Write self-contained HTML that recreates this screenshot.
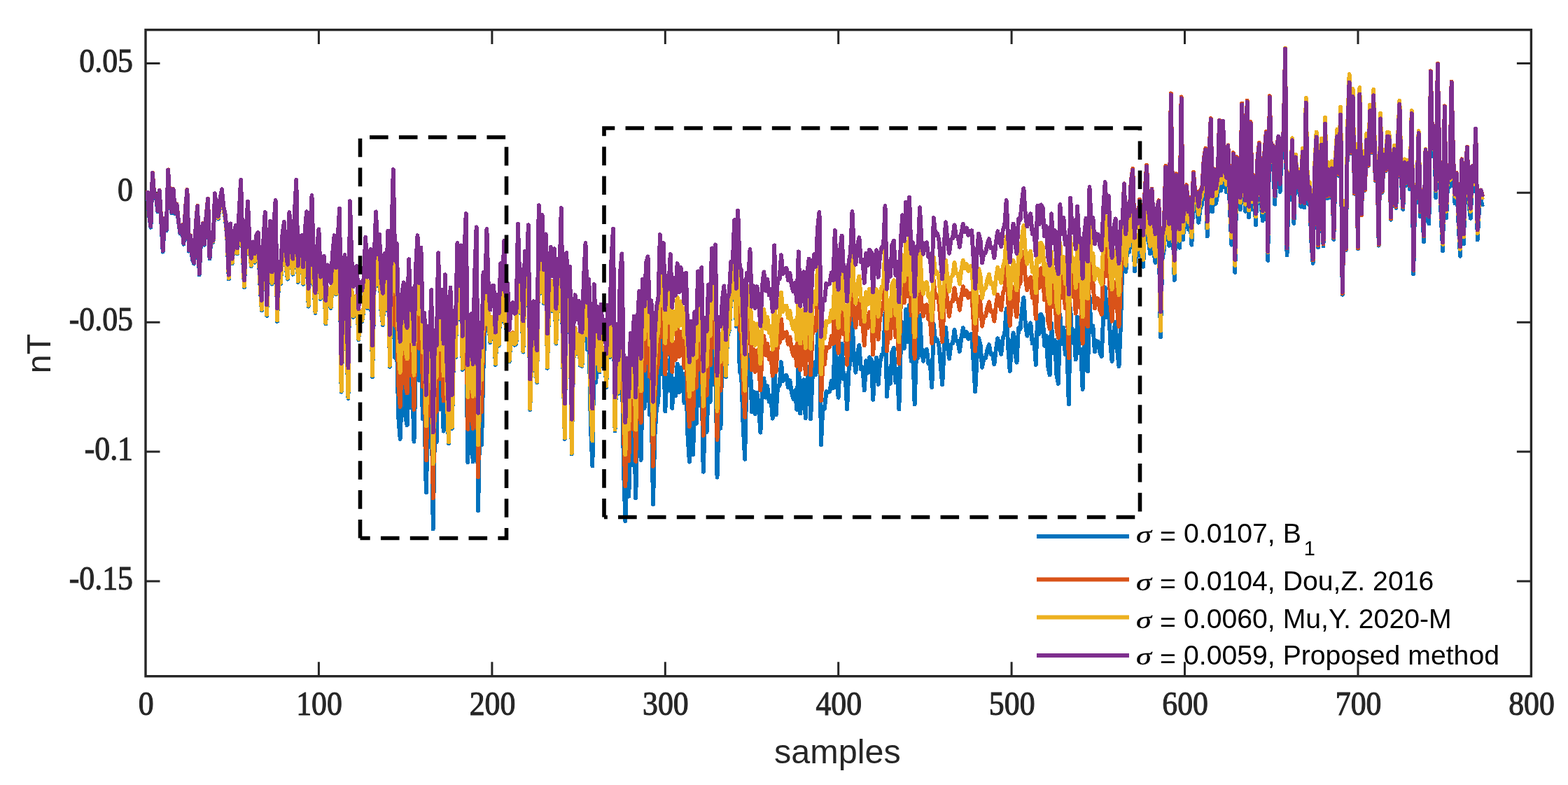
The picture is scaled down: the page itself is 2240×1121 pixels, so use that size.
<!DOCTYPE html>
<html><head><meta charset="utf-8"><title>samples nT</title>
<style>html,body{margin:0;padding:0;background:#fff;}svg{display:block;}</style></head>
<body>
<svg width="2240" height="1121" viewBox="0 0 2240 1121">
<rect x="0" y="0" width="2240" height="1121" fill="#fff"/>
<rect x="208.0" y="42.6" width="1979.4" height="923.1" fill="none" stroke="#262626" stroke-width="3.4"/>
<g stroke="#262626" stroke-width="3" fill="none">
<path d="M455.4,965.7 v-20.5 M455.4,42.6 v20.5"/>
<path d="M702.9,965.7 v-20.5 M702.9,42.6 v20.5"/>
<path d="M950.3,965.7 v-20.5 M950.3,42.6 v20.5"/>
<path d="M1197.7,965.7 v-20.5 M1197.7,42.6 v20.5"/>
<path d="M1445.1,965.7 v-20.5 M1445.1,42.6 v20.5"/>
<path d="M1692.5,965.7 v-20.5 M1692.5,42.6 v20.5"/>
<path d="M1940.0,965.7 v-20.5 M1940.0,42.6 v20.5"/>
<path d="M208.0,90.4 h20.5 M2187.4,90.4 h-20.5"/>
<path d="M208.0,275.3 h20.5 M2187.4,275.3 h-20.5"/>
<path d="M208.0,460.2 h20.5 M2187.4,460.2 h-20.5"/>
<path d="M208.0,645.1 h20.5 M2187.4,645.1 h-20.5"/>
<path d="M208.0,830.0 h20.5 M2187.4,830.0 h-20.5"/>
</g>
<g fill="none" stroke-width="5.9" stroke-linejoin="round" stroke-linecap="butt" shape-rendering="crispEdges">
<polyline points="210.5,273.9 212.9,307.1 215.4,324.8 217.9,248.6 220.4,280.9 222.8,279.5 225.3,302.5 227.8,273.6 230.3,317.1 232.7,359.6 235.2,313.7 237.7,329.3 240.2,244.4 242.6,286.4 245.1,304.3 247.6,271.8 250.1,305.2 252.5,293.2 255.0,317.2 257.5,333.7 260.0,323.3 262.4,348.9 264.9,299.7 267.4,272.7 269.9,358.7 272.3,338.3 274.8,370.8 277.3,376.6 279.8,321.3 282.2,295.9 284.7,392.3 287.2,342.1 289.7,320.9 292.1,349.8 294.6,310.0 297.1,285.5 299.5,369.4 302.0,334.2 304.5,346.1 307.0,278.8 309.4,305.3 311.9,312.5 314.4,288.6 316.9,274.6 319.3,299.4 321.8,311.5 324.3,339.4 326.8,398.5 329.2,325.8 331.7,376.5 334.2,344.2 336.7,329.7 339.1,362.6 341.6,311.1 344.1,265.7 346.6,359.4 349.0,410.3 351.5,338.8 354.0,298.7 356.5,356.5 358.9,380.4 361.4,357.4 363.9,374.9 366.4,347.9 368.8,345.6 371.3,404.3 373.8,443.2 376.2,360.4 378.7,318.6 381.2,450.8 383.7,368.9 386.1,332.5 388.6,405.6 391.1,340.4 393.6,304.4 396.0,458.9 398.5,392.6 401.0,405.2 403.5,353.5 405.9,336.8 408.4,380.8 410.9,398.6 413.4,324.6 415.8,372.0 418.3,391.8 420.8,326.9 423.3,279.7 425.7,402.8 428.2,368.1 430.7,360.4 433.2,405.7 435.6,354.8 438.1,327.6 440.6,437.6 443.1,357.7 445.5,306.5 448.0,399.9 450.5,447.0 453.0,384.2 455.4,357.9 457.9,426.8 460.4,402.0 462.8,398.6 465.3,462.4 467.8,412.7 470.3,433.9 472.7,439.8 475.2,397.4 477.7,373.9 480.2,420.6 482.6,378.8 485.1,337.5 487.6,559.7 490.1,454.6 492.5,406.2 495.0,485.6 497.5,568.8 500.0,330.8 502.4,415.7 504.9,453.0 507.4,426.8 509.9,424.1 512.3,485.4 514.8,447.1 517.3,459.2 519.8,440.0 522.2,383.5 524.7,440.2 527.2,407.7 529.7,400.7 532.1,538.0 534.6,414.6 537.1,347.4 539.5,407.8 542.0,379.8 544.5,444.5 547.0,464.2 549.4,407.8 551.9,442.8 554.4,375.2 556.9,523.7 559.3,380.5 561.8,288.2 564.3,510.9 566.8,486.4 569.2,595.6 571.7,626.9 574.2,558.8 576.7,542.4 579.1,594.2 581.6,607.3 584.1,509.5 586.6,581.9 589.0,551.5 591.5,630.6 594.0,521.7 596.5,475.7 598.9,543.5 601.4,492.9 603.9,598.4 606.4,586.4 608.8,703.3 611.3,605.5 613.8,638.2 616.3,552.6 618.7,755.4 621.2,609.5 623.7,631.6 626.1,497.0 628.6,584.7 631.1,540.1 633.6,615.6 636.0,517.2 638.5,568.7 641.0,633.3 643.5,458.6 645.9,611.8 648.4,492.3 650.9,510.6 653.4,395.2 655.8,455.9 658.3,398.4 660.8,527.9 663.3,410.1 665.7,444.3 668.2,660.0 670.7,590.7 673.2,587.3 675.6,659.3 678.1,532.7 680.6,463.7 683.1,729.1 685.5,600.6 688.0,635.6 690.5,528.2 693.0,464.5 695.4,374.1 697.9,460.6 700.4,489.1 702.9,454.6 705.3,454.4 707.8,520.9 710.3,467.4 712.7,493.6 715.2,422.2 717.7,458.7 720.2,389.8 722.6,468.7 725.1,450.2 727.6,516.5 730.1,480.7 732.5,477.2 735.0,492.8 737.5,490.8 740.0,364.8 742.4,446.6 744.9,429.0 747.4,502.6 749.9,402.8 752.3,435.6 754.8,365.0 757.3,585.1 759.8,494.0 762.2,475.0 764.7,525.0 767.2,546.4 769.7,339.8 772.1,418.8 774.6,354.7 777.1,433.4 779.6,383.3 782.0,525.8 784.5,431.6 787.0,402.6 789.4,444.2 791.9,405.2 794.4,490.6 796.9,419.7 799.3,444.4 801.8,347.5 804.3,519.7 806.8,626.8 809.2,411.5 811.7,473.6 814.2,431.0 816.7,648.3 819.1,520.6 821.6,470.5 824.1,505.2 826.6,478.5 829.0,522.0 831.5,522.9 834.0,444.3 836.5,402.3 838.9,499.3 841.4,478.1 843.9,609.8 846.4,665.5 848.8,488.2 851.3,546.3 853.8,494.2 856.3,531.5 858.7,482.7 861.2,523.4 863.7,504.6 866.2,552.9 868.6,483.6 871.1,510.3 873.6,414.3 876.0,374.7 878.5,615.4 881.0,510.9 883.5,562.1 885.9,466.3 888.4,503.4 890.9,668.8 893.4,744.2 895.8,653.0 898.3,708.7 900.8,618.2 903.3,664.3 905.7,595.2 908.2,711.4 910.7,604.8 913.2,560.5 915.6,656.9 918.1,544.1 920.6,582.9 923.1,520.5 925.5,512.4 928.0,592.0 930.5,575.8 933.0,720.2 935.4,622.7 937.9,583.5 940.4,572.6 942.9,480.7 945.3,534.4 947.8,492.4 950.3,587.4 952.7,538.6 955.2,556.6 957.7,507.6 960.2,582.9 962.6,540.6 965.1,565.6 967.6,519.6 970.1,560.6 972.5,524.9 975.0,540.0 977.5,575.5 980.0,532.4 982.4,621.3 984.9,659.6 987.4,601.2 989.9,649.3 992.3,588.6 994.8,604.8 997.3,530.6 999.8,578.6 1002.2,525.7 1004.7,673.7 1007.2,597.9 1009.7,617.0 1012.1,551.1 1014.6,574.2 1017.1,499.2 1019.6,549.3 1022.0,494.7 1024.5,681.7 1027.0,598.6 1029.5,611.8 1031.9,480.9 1034.4,461.4 1036.9,538.5 1039.3,480.0 1041.8,471.6 1044.3,427.2 1046.8,427.7 1049.2,368.0 1051.7,465.8 1054.2,406.0 1056.7,530.6 1059.1,535.3 1061.6,606.3 1064.1,655.8 1066.6,540.3 1069.0,550.5 1071.5,506.8 1074.0,588.6 1076.5,559.3 1078.9,591.2 1081.4,560.7 1083.9,582.4 1086.4,617.6 1088.8,561.6 1091.3,540.4 1093.8,567.6 1096.3,551.3 1098.7,573.8 1101.2,564.9 1103.7,597.6 1106.2,503.0 1108.6,592.2 1111.1,550.9 1113.6,551.0 1116.0,517.1 1118.5,544.3 1121.0,536.7 1123.5,536.0 1125.9,553.4 1128.4,543.3 1130.9,561.1 1133.4,569.7 1135.8,557.4 1138.3,585.0 1140.8,513.0 1143.3,590.5 1145.7,551.2 1148.2,542.1 1150.7,597.2 1153.2,545.7 1155.6,523.6 1158.1,598.3 1160.6,540.0 1163.1,517.5 1165.5,535.1 1168.0,480.5 1170.5,457.6 1173.0,635.3 1175.4,581.0 1177.9,583.8 1180.4,559.1 1182.9,560.5 1185.3,559.2 1187.8,543.5 1190.3,554.5 1192.8,483.2 1195.2,543.0 1197.7,567.8 1200.2,510.9 1202.6,490.6 1205.1,541.1 1207.6,535.7 1210.1,584.6 1212.5,528.9 1215.0,514.6 1217.5,456.1 1220.0,511.4 1222.4,531.8 1224.9,504.5 1227.4,493.0 1229.9,527.5 1232.3,524.3 1234.8,557.5 1237.3,515.1 1239.8,532.7 1242.2,510.3 1244.7,513.6 1247.2,570.7 1249.7,528.0 1252.1,510.5 1254.6,549.2 1257.1,518.4 1259.6,506.3 1262.0,506.1 1264.5,447.3 1267.0,566.0 1269.5,525.8 1271.9,548.1 1274.4,502.9 1276.9,496.8 1279.4,546.1 1281.8,526.7 1284.3,584.5 1286.8,498.3 1289.2,460.2 1291.7,497.6 1294.2,442.0 1296.7,488.4 1299.1,435.6 1301.6,515.7 1304.1,500.1 1306.6,577.3 1309.0,506.0 1311.5,511.4 1314.0,449.6 1316.5,496.8 1318.9,515.7 1321.4,501.3 1323.9,498.9 1326.4,519.6 1328.8,520.5 1331.3,553.2 1333.8,462.8 1336.3,487.3 1338.7,484.6 1341.2,492.3 1343.7,521.0 1346.2,549.4 1348.6,500.7 1351.1,467.8 1353.6,495.4 1356.1,512.1 1358.5,491.8 1361.0,490.0 1363.5,471.0 1365.9,486.8 1368.4,486.9 1370.9,502.1 1373.4,482.1 1375.8,468.3 1378.3,480.1 1380.8,473.9 1383.3,484.0 1385.7,477.6 1388.2,477.2 1390.7,517.5 1393.2,559.4 1395.6,511.1 1398.1,482.4 1400.6,492.7 1403.1,524.8 1405.5,510.9 1408.0,511.4 1410.5,499.3 1413.0,492.0 1415.4,505.9 1417.9,505.8 1420.4,520.3 1422.9,498.3 1425.3,483.2 1427.8,497.5 1430.3,505.8 1432.8,482.2 1435.2,476.7 1437.7,441.0 1440.2,496.0 1442.7,530.0 1445.1,494.4 1447.6,475.3 1450.1,503.8 1452.5,517.7 1455.0,468.3 1457.5,470.1 1460.0,441.9 1462.4,425.0 1464.9,463.8 1467.4,479.6 1469.9,464.9 1472.3,461.4 1474.8,490.5 1477.3,484.6 1479.8,520.8 1482.2,450.3 1484.7,476.8 1487.2,448.8 1489.7,453.7 1492.1,493.9 1494.6,479.4 1497.1,523.3 1499.6,535.4 1502.0,461.9 1504.5,503.8 1507.0,485.9 1509.5,536.4 1511.9,548.1 1514.4,449.0 1516.9,491.0 1519.4,467.9 1521.8,505.9 1524.3,495.3 1526.8,577.3 1529.2,440.1 1531.7,489.1 1534.2,472.2 1536.7,513.4 1539.1,453.1 1541.6,503.8 1544.1,498.6 1546.6,555.9 1549.0,493.9 1551.5,468.6 1554.0,530.0 1556.5,423.1 1558.9,474.4 1561.4,465.3 1563.9,502.5 1566.4,487.4 1568.8,487.5 1571.3,503.4 1573.8,508.9 1576.3,448.0 1578.7,410.4 1581.2,453.2 1583.7,428.8 1586.2,490.2 1588.6,515.9 1591.1,472.9 1593.6,459.9 1596.1,500.6 1598.5,523.3 1601.0,463.6 1603.5,373.4 1606.0,316.4 1608.4,388.0 1610.9,343.5 1613.4,359.6 1615.8,308.5 1618.3,291.4 1620.8,387.4 1623.3,349.6 1625.7,365.6 1628.2,332.7 1630.7,369.1 1633.2,381.0 1635.6,317.8 1638.1,281.7 1640.6,341.1 1643.1,362.6 1645.5,312.6 1648.0,356.6 1650.5,374.9 1653.0,336.9 1655.4,324.8 1657.9,481.0 1660.4,370.4 1662.9,356.9 1665.3,271.5 1667.8,332.6 1670.3,350.9 1672.8,165.5 1675.2,314.1 1677.7,399.8 1680.2,277.9 1682.7,336.5 1685.1,354.0 1687.6,167.0 1690.1,342.5 1692.5,300.6 1695.0,291.5 1697.5,327.6 1700.0,308.9 1702.4,349.6 1704.9,271.6 1707.4,300.7 1709.9,299.2 1712.3,317.8 1714.8,296.5 1717.3,291.8 1719.8,249.7 1722.2,235.1 1724.7,337.4 1727.2,244.1 1729.7,191.7 1732.1,302.0 1734.6,263.8 1737.1,290.8 1739.6,275.6 1742.0,194.1 1744.5,272.2 1747.0,194.5 1749.5,251.3 1751.9,274.4 1754.4,228.3 1756.9,298.7 1759.4,349.6 1761.8,238.4 1764.3,388.8 1766.8,243.8 1769.3,288.4 1771.7,299.3 1774.2,165.9 1776.7,263.4 1779.1,301.8 1781.6,160.9 1784.1,310.0 1786.6,191.3 1789.0,299.6 1791.5,267.9 1794.0,321.6 1796.5,244.0 1798.9,220.7 1801.4,292.6 1803.9,315.2 1806.4,232.7 1808.8,203.2 1811.3,371.8 1813.8,151.4 1816.3,242.2 1818.7,220.7 1821.2,291.6 1823.7,227.2 1826.2,206.4 1828.6,274.1 1831.1,215.0 1833.6,199.6 1836.1,80.7 1838.5,364.4 1841.0,269.9 1843.5,284.9 1846.0,208.8 1848.4,318.9 1850.9,232.2 1853.4,274.3 1855.9,253.4 1858.3,295.0 1860.8,224.3 1863.3,296.5 1865.7,153.4 1868.2,290.7 1870.7,273.3 1873.2,343.6 1875.6,375.9 1878.1,250.3 1880.6,201.2 1883.1,353.5 1885.5,245.7 1888.0,211.3 1890.5,351.4 1893.0,181.6 1895.4,283.3 1897.9,246.3 1900.4,282.2 1902.9,244.6 1905.3,341.8 1907.8,240.2 1910.3,198.7 1912.8,250.9 1915.2,167.3 1917.7,420.7 1920.2,301.7 1922.7,357.5 1925.1,195.1 1927.6,120.6 1930.1,219.2 1932.6,141.0 1935.0,276.8 1937.5,218.6 1940.0,354.9 1942.4,137.1 1944.9,307.6 1947.4,227.7 1949.9,271.9 1952.3,202.3 1954.8,236.8 1957.3,160.8 1959.8,217.9 1962.2,139.0 1964.7,257.8 1967.2,233.9 1969.7,350.6 1972.1,172.1 1974.6,274.9 1977.1,224.1 1979.6,244.5 1982.0,198.2 1984.5,198.4 1987.0,313.7 1989.5,239.4 1991.9,216.5 1994.4,297.0 1996.9,207.0 1999.4,152.8 2001.8,256.9 2004.3,298.8 2006.8,236.6 2009.3,264.9 2011.7,238.0 2014.2,270.3 2016.7,167.9 2019.2,391.4 2021.6,273.6 2024.1,289.3 2026.6,197.3 2029.0,309.5 2031.5,281.5 2034.0,345.3 2036.5,223.3 2038.9,298.6 2041.4,319.4 2043.9,112.6 2046.4,222.7 2048.8,192.0 2051.3,282.2 2053.8,103.0 2056.3,232.7 2058.7,310.4 2061.2,358.2 2063.7,164.6 2066.2,311.1 2068.6,248.9 2071.1,266.7 2073.6,130.3 2076.1,237.3 2078.5,290.3 2081.0,261.0 2083.5,318.5 2086.0,365.7 2088.4,241.7 2090.9,348.1 2093.4,260.4 2095.9,224.2 2098.3,290.8 2100.8,311.9 2103.3,251.4 2105.7,272.8 2108.2,197.7 2110.7,342.3 2113.2,294.3 2115.6,285.7 2118.1,295.0" stroke="#0072bd"/>
<polyline points="210.5,271.9 212.9,305.1 215.4,322.8 217.9,246.6 220.4,278.9 222.8,277.5 225.3,300.5 227.8,271.6 230.3,315.1 232.7,357.6 235.2,311.7 237.7,327.3 240.2,242.4 242.6,284.4 245.1,302.3 247.6,269.8 250.1,303.2 252.5,291.2 255.0,315.2 257.5,331.7 260.0,321.3 262.4,346.9 264.9,297.7 267.4,270.7 269.9,356.7 272.3,336.3 274.8,368.8 277.3,374.6 279.8,319.3 282.2,293.9 284.7,390.3 287.2,340.1 289.7,318.9 292.1,347.8 294.6,308.0 297.1,283.5 299.5,367.4 302.0,332.2 304.5,344.1 307.0,276.8 309.4,303.3 311.9,310.5 314.4,286.6 316.9,272.6 319.3,297.4 321.8,309.5 324.3,337.4 326.8,396.5 329.2,323.8 331.7,374.5 334.2,342.2 336.7,327.7 339.1,360.6 341.6,309.1 344.1,263.7 346.6,357.4 349.0,408.3 351.5,336.8 354.0,296.7 356.5,354.5 358.9,378.4 361.4,355.4 363.9,372.9 366.4,345.9 368.8,343.6 371.3,402.3 373.8,441.2 376.2,358.4 378.7,316.6 381.2,448.8 383.7,366.9 386.1,330.5 388.6,403.6 391.1,338.4 393.6,302.4 396.0,456.9 398.5,390.6 401.0,403.2 403.5,351.5 405.9,334.8 408.4,378.8 410.9,396.6 413.4,322.6 415.8,370.0 418.3,389.8 420.8,324.9 423.3,277.7 425.7,400.8 428.2,366.1 430.7,358.4 433.2,403.7 435.6,352.8 438.1,325.6 440.6,435.6 443.1,355.7 445.5,304.5 448.0,397.9 450.5,445.0 453.0,382.2 455.4,355.9 457.9,424.8 460.4,400.0 462.8,396.6 465.3,460.4 467.8,410.7 470.3,431.9 472.7,437.8 475.2,395.4 477.7,371.9 480.2,418.6 482.6,376.8 485.1,335.5 487.6,557.7 490.1,452.6 492.5,404.2 495.0,483.6 497.5,566.8 500.0,328.8 502.4,413.7 504.9,450.9 507.4,424.7 509.9,422.0 512.3,483.3 514.8,445.0 517.3,457.1 519.8,437.8 522.2,381.3 524.7,438.0 527.2,405.5 529.7,398.5 532.1,535.7 534.6,412.3 537.1,345.2 539.5,405.5 542.0,377.5 544.5,442.2 547.0,461.9 549.4,405.5 551.9,440.5 554.4,372.9 556.9,521.3 559.3,378.1 561.8,285.8 564.3,465.0 566.8,440.5 569.2,549.6 571.7,580.9 574.2,512.8 576.7,496.5 579.1,548.2 581.6,561.4 584.1,463.6 586.6,536.0 589.0,505.5 591.5,584.7 594.0,475.8 596.5,429.8 598.9,497.6 601.4,447.0 603.9,552.5 606.4,540.5 608.8,657.4 611.3,560.0 613.8,593.2 616.3,508.1 618.7,711.4 621.2,565.6 623.7,587.8 626.1,453.4 628.6,541.2 631.1,496.7 633.6,572.3 636.0,474.0 638.5,566.1 641.0,630.8 643.5,456.1 645.9,609.3 648.4,489.7 650.9,508.0 653.4,392.6 655.8,453.3 658.3,395.8 660.8,525.3 663.3,407.4 665.7,397.1 668.2,612.8 670.7,543.4 673.2,539.9 675.6,611.8 678.1,485.1 680.6,416.1 683.1,681.4 685.5,553.0 688.0,588.0 690.5,480.6 693.0,462.3 695.4,372.0 697.9,458.4 700.4,487.0 702.9,452.6 705.3,452.3 707.8,518.8 710.3,465.3 712.7,491.6 715.2,420.2 717.7,456.6 720.2,387.8 722.6,466.7 725.1,448.2 727.6,514.5 730.1,478.7 732.5,475.2 735.0,490.8 737.5,488.8 740.0,362.8 742.4,444.6 744.9,427.0 747.4,500.6 749.9,400.8 752.3,433.6 754.8,363.0 757.3,583.1 759.8,492.0 762.2,473.0 764.7,523.0 767.2,544.4 769.7,337.8 772.1,416.8 774.6,352.7 777.1,431.4 779.6,381.3 782.0,523.8 784.5,429.6 787.0,400.6 789.4,442.2 791.9,403.2 794.4,488.6 796.9,417.7 799.3,442.4 801.8,345.5 804.3,517.7 806.8,624.8 809.2,409.5 811.7,471.6 814.2,429.1 816.7,646.4 819.1,518.7 821.6,468.7 824.1,503.4 826.6,476.7 829.0,520.2 831.5,521.2 834.0,442.6 836.5,393.5 838.9,478.2 841.4,444.9 843.9,573.5 846.4,629.0 848.8,451.7 851.3,518.7 853.8,483.4 856.3,529.0 858.7,480.2 861.2,520.9 863.7,502.1 866.2,550.4 868.6,481.1 871.1,507.8 873.6,411.8 876.0,372.2 878.5,612.9 881.0,508.4 883.5,559.6 885.9,449.8 888.4,453.4 890.9,618.9 893.4,694.2 895.8,602.5 898.3,657.8 900.8,567.0 903.3,612.6 905.7,543.1 908.2,658.9 910.7,552.1 913.2,507.6 915.6,603.7 918.1,490.8 920.6,529.3 923.1,466.7 925.5,458.5 928.0,537.8 930.5,521.4 933.0,665.8 935.4,568.5 937.9,529.5 940.4,518.9 942.9,427.2 945.3,481.1 947.8,439.3 950.3,534.4 952.7,485.9 955.2,504.1 957.7,455.3 960.2,530.8 962.6,488.7 965.1,513.9 967.6,468.1 970.1,509.4 972.5,473.9 975.0,489.2 977.5,524.9 980.0,482.0 982.4,571.2 984.9,609.3 987.4,550.8 989.9,598.6 992.3,537.8 994.8,553.7 997.3,479.4 999.8,527.2 1002.2,474.0 1004.7,621.9 1007.2,545.9 1009.7,564.7 1012.1,498.6 1014.6,521.4 1017.1,446.3 1019.6,496.1 1022.0,441.3 1024.5,628.0 1027.0,544.8 1029.5,557.7 1031.9,478.3 1034.4,458.8 1036.9,535.8 1039.3,477.2 1041.8,468.8 1044.3,424.4 1046.8,424.9 1049.2,365.2 1051.7,462.9 1054.2,372.5 1056.7,470.3 1059.1,475.1 1061.6,546.3 1064.1,595.8 1066.6,480.3 1069.0,490.5 1071.5,446.7 1074.0,528.5 1076.5,499.1 1078.9,530.9 1081.4,500.4 1083.9,522.0 1086.4,557.2 1088.8,501.1 1091.3,479.9 1093.8,507.0 1096.3,490.6 1098.7,513.0 1101.2,504.0 1103.7,536.6 1106.2,441.9 1108.6,531.0 1111.1,489.7 1113.6,489.6 1116.0,455.6 1118.5,482.8 1121.0,475.1 1123.5,474.3 1125.9,491.6 1128.4,481.4 1130.9,499.1 1133.4,507.7 1135.8,495.3 1138.3,522.8 1140.8,450.7 1143.3,528.1 1145.7,488.8 1148.2,479.5 1150.7,534.5 1153.2,483.0 1155.6,460.8 1158.1,535.4 1160.6,477.0 1163.1,454.5 1165.5,471.9 1168.0,417.2 1170.5,394.2 1173.0,571.9 1175.4,517.5 1177.9,520.3 1180.4,495.6 1182.9,497.0 1185.3,495.6 1187.8,479.9 1190.3,490.9 1192.8,419.5 1195.2,479.2 1197.7,504.0 1200.2,447.1 1202.6,426.8 1205.1,477.3 1207.6,471.8 1210.1,520.7 1212.5,464.9 1215.0,450.6 1217.5,392.1 1220.0,447.3 1222.4,467.6 1224.9,440.3 1227.4,428.8 1229.9,463.3 1232.3,460.0 1234.8,493.2 1237.3,450.8 1239.8,468.3 1242.2,445.9 1244.7,449.2 1247.2,506.2 1249.7,463.5 1252.1,445.9 1254.6,484.6 1257.1,453.8 1259.6,441.6 1262.0,441.4 1264.5,382.6 1267.0,501.2 1269.5,461.0 1271.9,483.2 1274.4,438.0 1276.9,431.9 1279.4,481.1 1281.8,461.7 1284.3,519.5 1286.8,433.3 1289.2,395.2 1291.7,432.5 1294.2,376.9 1296.7,423.2 1299.1,370.4 1301.6,450.5 1304.1,434.8 1306.6,512.0 1309.0,440.9 1311.5,446.5 1314.0,385.0 1316.5,432.4 1318.9,451.6 1321.4,437.4 1323.9,435.3 1326.4,456.2 1328.8,457.3 1331.3,490.3 1333.8,400.2 1336.3,424.9 1338.7,422.4 1341.2,430.4 1343.7,459.3 1346.2,488.0 1348.6,439.5 1351.1,406.9 1353.6,434.7 1356.1,451.7 1358.5,431.6 1361.0,430.1 1363.5,411.3 1365.9,427.3 1368.4,427.4 1370.9,442.8 1373.4,422.9 1375.8,409.3 1378.3,421.2 1380.8,415.2 1383.3,425.5 1385.7,419.1 1388.2,419.0 1390.7,459.3 1393.2,501.4 1395.6,452.8 1398.1,423.8 1400.6,433.8 1403.1,465.7 1405.5,451.5 1408.0,451.5 1410.5,439.1 1413.0,431.4 1415.4,445.0 1417.9,444.5 1420.4,458.6 1422.9,436.2 1425.3,420.8 1427.8,434.7 1430.3,442.6 1432.8,418.6 1435.2,412.8 1437.7,376.7 1440.2,431.3 1442.7,465.0 1445.1,429.3 1447.6,410.2 1450.1,438.6 1452.5,452.5 1455.0,403.1 1457.5,404.8 1460.0,376.6 1462.4,359.7 1464.9,398.5 1467.4,414.2 1469.9,399.5 1472.3,396.0 1474.8,425.0 1477.3,419.1 1479.8,455.3 1482.2,384.8 1484.7,411.2 1487.2,383.2 1489.7,388.1 1492.1,428.3 1494.6,413.8 1497.1,457.6 1499.6,469.7 1502.0,396.2 1504.5,438.0 1507.0,420.1 1509.5,470.5 1511.9,482.3 1514.4,383.2 1516.9,425.1 1519.4,402.0 1521.8,440.0 1524.3,429.3 1526.8,511.3 1529.2,374.2 1531.7,423.2 1534.2,406.3 1536.7,447.6 1539.1,387.4 1541.6,438.2 1544.1,433.1 1546.6,490.6 1549.0,429.0 1551.5,404.2 1554.0,466.0 1556.5,359.7 1558.9,411.4 1561.4,402.8 1563.9,440.5 1566.4,425.9 1568.8,426.5 1571.3,442.8 1573.8,448.9 1576.3,388.4 1578.7,351.3 1581.2,394.6 1583.7,370.6 1586.2,432.5 1588.6,458.7 1591.1,415.8 1593.6,402.8 1596.1,443.5 1598.5,466.3 1601.0,406.6 1603.5,318.6 1606.0,262.3 1608.4,334.6 1610.9,290.9 1613.4,307.7 1615.8,257.2 1618.3,240.9 1620.8,337.6 1623.3,300.3 1625.7,316.9 1628.2,284.5 1630.7,321.5 1633.2,334.0 1635.6,271.4 1638.1,235.8 1640.6,295.7 1643.1,318.2 1645.5,269.6 1648.0,315.0 1650.5,334.5 1653.0,297.4 1655.4,286.2 1657.9,443.3 1660.4,333.7 1662.9,321.0 1665.3,236.7 1667.8,298.7 1670.3,317.9 1672.8,133.4 1675.2,283.0 1677.7,369.7 1680.2,248.3 1682.7,307.2 1685.1,325.1 1687.6,138.4 1690.1,314.3 1692.5,272.7 1695.0,264.0 1697.5,300.5 1700.0,282.2 1702.4,323.3 1704.9,245.6 1707.4,275.1 1709.9,273.9 1712.3,292.9 1714.8,272.0 1717.3,267.6 1719.8,225.9 1722.2,211.7 1724.7,314.3 1727.2,221.3 1729.7,169.0 1732.1,279.4 1734.6,241.4 1737.1,268.5 1739.6,253.4 1742.0,172.1 1744.5,250.4 1747.0,172.9 1749.5,230.0 1751.9,253.2 1754.4,207.4 1756.9,278.1 1759.4,329.2 1761.8,218.2 1764.3,368.8 1766.8,224.2 1769.3,269.2 1771.7,280.5 1774.2,147.5 1776.7,245.3 1779.1,284.1 1781.6,143.6 1784.1,293.1 1786.6,174.3 1789.0,282.3 1791.5,250.2 1794.0,303.6 1796.5,226.4 1798.9,203.6 1801.4,276.0 1803.9,299.2 1806.4,217.1 1808.8,188.1 1811.3,357.2 1813.8,137.2 1816.3,228.5 1818.7,207.4 1821.2,278.8 1823.7,214.8 1826.2,194.5 1828.6,262.6 1831.1,204.0 1833.6,188.9 1836.1,70.5 1838.5,354.4 1841.0,260.6 1843.5,276.2 1846.0,200.7 1848.4,311.5 1850.9,225.0 1853.4,267.4 1855.9,246.8 1858.3,288.7 1860.8,218.1 1863.3,290.0 1865.7,146.7 1868.2,284.4 1870.7,267.6 1873.2,338.4 1875.6,371.3 1878.1,246.4 1880.6,197.9 1883.1,350.5 1885.5,242.7 1888.0,208.3 1890.5,348.3 1893.0,178.6 1895.4,280.3 1897.9,243.5 1900.4,279.5 1902.9,242.0 1905.3,339.3 1907.8,237.9 1910.3,196.5 1912.8,248.8 1915.2,165.2 1917.7,418.8 1920.2,299.8 1922.7,355.7 1925.1,193.4 1927.6,119.0 1930.1,217.8 1932.6,139.8 1935.0,275.9 1937.5,217.8 1940.0,354.4 1942.4,136.7 1944.9,307.2 1947.4,227.2 1949.9,271.3 1952.3,201.6 1954.8,236.1 1957.3,159.9 1959.8,217.0 1962.2,137.9 1964.7,256.8 1967.2,232.8 1969.7,349.5 1972.1,171.0 1974.6,273.7 1977.1,222.9 1979.6,243.3 1982.0,197.1 1984.5,197.2 1987.0,312.3 1989.5,237.9 1991.9,214.9 1994.4,295.1 1996.9,204.9 1999.4,150.4 2001.8,254.1 2004.3,295.6 2006.8,232.9 2009.3,260.9 2011.7,233.6 2014.2,265.5 2016.7,162.6 2019.2,385.8 2021.6,267.6 2024.1,282.8 2026.6,190.3 2029.0,302.1 2031.5,273.7 2034.0,337.2 2036.5,214.9 2038.9,289.3 2041.4,309.2 2043.9,101.4 2046.4,211.2 2048.8,180.3 2051.3,270.2 2053.8,90.7 2056.3,220.2 2058.7,297.5 2061.2,345.2 2063.7,151.4 2066.2,297.8 2068.6,235.5 2071.1,253.2 2073.6,116.6 2076.1,223.5 2078.5,276.4 2081.0,246.9 2083.5,304.3 2086.0,351.4 2088.4,227.3 2090.9,333.6 2093.4,245.9 2095.9,209.7 2098.3,276.3 2100.8,297.5 2103.3,237.1 2105.7,258.6 2108.2,183.6 2110.7,328.3 2113.2,280.1 2115.6,271.3 2118.1,280.4" stroke="#d95319"/>
<polyline points="210.5,272.4 212.9,305.6 215.4,323.3 217.9,247.1 220.4,279.4 222.8,278.0 225.3,301.0 227.8,272.1 230.3,315.6 232.7,358.1 235.2,312.2 237.7,327.8 240.2,242.9 242.6,284.9 245.1,302.8 247.6,270.3 250.1,303.7 252.5,291.7 255.0,315.7 257.5,332.2 260.0,321.8 262.4,347.4 264.9,298.2 267.4,271.2 269.9,357.2 272.3,336.8 274.8,369.3 277.3,375.1 279.8,319.8 282.2,294.4 284.7,390.8 287.2,340.6 289.7,319.4 292.1,348.3 294.6,308.5 297.1,284.0 299.5,367.9 302.0,332.7 304.5,344.6 307.0,277.3 309.4,303.8 311.9,311.0 314.4,287.1 316.9,273.1 319.3,297.9 321.8,310.0 324.3,337.9 326.8,397.0 329.2,324.3 331.7,375.0 334.2,342.7 336.7,328.2 339.1,361.1 341.6,309.6 344.1,264.2 346.6,357.9 349.0,408.8 351.5,337.3 354.0,297.2 356.5,355.0 358.9,378.9 361.4,355.9 363.9,373.4 366.4,346.4 368.8,344.1 371.3,402.8 373.8,441.7 376.2,358.9 378.7,317.1 381.2,449.3 383.7,367.4 386.1,331.0 388.6,404.1 391.1,338.9 393.6,302.9 396.0,457.4 398.5,391.1 401.0,403.7 403.5,352.0 405.9,335.3 408.4,379.3 410.9,397.1 413.4,323.1 415.8,370.5 418.3,390.3 420.8,325.4 423.3,278.2 425.7,401.3 428.2,366.6 430.7,358.9 433.2,404.2 435.6,353.3 438.1,326.1 440.6,436.1 443.1,356.2 445.5,305.0 448.0,398.4 450.5,445.5 453.0,382.7 455.4,356.4 457.9,425.3 460.4,400.5 462.8,397.1 465.3,460.9 467.8,411.2 470.3,432.4 472.7,438.3 475.2,395.9 477.7,372.4 480.2,419.1 482.6,377.3 485.1,336.0 487.6,558.2 490.1,453.1 492.5,404.7 495.0,484.1 497.5,567.3 500.0,329.3 502.4,414.2 504.9,451.4 507.4,425.2 509.9,422.5 512.3,483.8 514.8,445.5 517.3,457.6 519.8,438.3 522.2,381.8 524.7,438.5 527.2,406.0 529.7,399.0 532.1,536.2 534.6,412.8 537.1,345.7 539.5,406.0 542.0,378.0 544.5,442.7 547.0,462.4 549.4,406.0 551.9,441.0 554.4,373.4 556.9,521.8 559.3,378.6 561.8,286.3 564.3,416.0 566.8,391.5 569.2,500.6 571.7,531.9 574.2,463.8 576.7,447.5 579.1,499.2 581.6,512.4 584.1,414.6 586.6,487.0 589.0,456.5 591.5,535.7 594.0,426.8 596.5,380.8 598.9,448.6 601.4,398.0 603.9,503.5 606.4,491.5 608.8,608.4 611.3,511.0 613.8,544.2 616.3,459.1 618.7,662.4 621.2,516.6 623.7,538.8 626.1,406.5 628.6,498.9 631.1,459.0 633.6,536.3 636.0,438.0 638.5,566.6 641.0,631.3 643.5,456.6 645.9,609.8 648.4,490.2 650.9,508.5 653.4,393.1 655.8,453.8 658.3,396.3 660.8,525.8 663.3,407.9 665.7,351.1 668.2,566.8 670.7,497.4 673.2,493.9 675.6,565.8 678.1,439.1 680.6,370.1 683.1,635.4 685.5,507.0 688.0,542.0 690.5,434.6 693.0,462.8 695.4,372.5 697.9,458.9 700.4,487.5 702.9,453.1 705.3,452.8 707.8,519.3 710.3,465.8 712.7,492.1 715.2,420.7 717.7,457.1 720.2,388.3 722.6,467.2 725.1,448.7 727.6,515.0 730.1,479.2 732.5,475.7 735.0,491.3 737.5,489.3 740.0,363.3 742.4,445.1 744.9,427.5 747.4,501.1 749.9,401.3 752.3,434.1 754.8,363.5 757.3,583.6 759.8,492.5 762.2,473.5 764.7,523.5 767.2,544.9 769.7,338.3 772.1,417.3 774.6,353.2 777.1,431.9 779.6,381.8 782.0,524.3 784.5,430.1 787.0,401.1 789.4,442.7 791.9,403.7 794.4,489.1 796.9,418.2 799.3,442.9 801.8,346.0 804.3,518.2 806.8,625.3 809.2,410.0 811.7,472.1 814.2,429.6 816.7,646.9 819.1,519.2 821.6,469.2 824.1,503.9 826.6,477.2 829.0,520.7 831.5,521.7 834.0,443.1 836.5,394.0 838.9,478.7 841.4,445.4 843.9,574.0 846.4,629.5 848.8,452.2 851.3,519.2 853.8,483.9 856.3,529.5 858.7,480.7 861.2,521.4 863.7,502.6 866.2,550.9 868.6,481.6 871.1,508.3 873.6,412.3 876.0,372.7 878.5,613.4 881.0,508.9 883.5,560.1 885.9,436.8 888.4,408.4 890.9,573.8 893.4,649.1 895.8,557.4 898.3,612.7 900.8,521.8 903.3,567.4 905.7,497.9 908.2,613.6 910.7,506.8 913.2,462.3 915.6,558.4 918.1,445.4 920.6,484.0 923.1,421.3 925.5,413.0 928.0,492.3 930.5,476.0 933.0,620.3 935.4,523.2 937.9,484.3 940.4,473.8 942.9,382.2 945.3,436.2 947.8,394.6 950.3,489.8 952.7,441.4 955.2,459.7 957.7,411.1 960.2,486.7 962.6,444.7 965.1,470.0 967.6,424.4 970.1,465.8 972.5,430.4 975.0,445.8 977.5,481.6 980.0,438.9 982.4,528.2 984.9,566.4 987.4,508.0 989.9,555.9 992.3,495.2 994.8,511.2 997.3,437.0 999.8,484.9 1002.2,431.8 1004.7,579.8 1007.2,503.9 1009.7,522.9 1012.1,456.8 1014.6,479.8 1017.1,404.7 1019.6,454.7 1022.0,399.9 1024.5,586.8 1027.0,503.6 1029.5,516.6 1031.9,478.8 1034.4,459.3 1036.9,536.3 1039.3,477.7 1041.8,469.3 1044.3,424.9 1046.8,425.4 1049.2,365.7 1051.7,463.4 1054.2,352.5 1056.7,432.3 1059.1,437.1 1061.6,508.3 1064.1,557.8 1066.6,442.3 1069.0,452.5 1071.5,408.7 1074.0,490.5 1076.5,461.1 1078.9,492.9 1081.4,462.4 1083.9,484.0 1086.4,519.2 1088.8,463.1 1091.3,441.9 1093.8,469.0 1096.3,452.6 1098.7,475.1 1101.2,466.1 1103.7,498.7 1106.2,404.1 1108.6,493.2 1111.1,451.8 1113.6,451.8 1116.0,417.8 1118.5,444.9 1121.0,437.3 1123.5,436.6 1125.9,453.9 1128.4,443.7 1130.9,461.4 1133.4,469.9 1135.8,457.6 1138.3,485.1 1140.8,413.0 1143.3,490.5 1145.7,451.1 1148.2,441.9 1150.7,496.9 1153.2,445.4 1155.6,423.2 1158.1,497.8 1160.6,439.5 1163.1,416.9 1165.5,434.4 1168.0,379.7 1170.5,356.7 1173.0,534.4 1175.4,480.2 1177.9,483.1 1180.4,458.6 1182.9,460.1 1185.3,458.9 1187.8,443.3 1190.3,454.4 1192.8,383.3 1195.2,443.1 1197.7,468.0 1200.2,411.3 1202.6,391.1 1205.1,441.7 1207.6,436.4 1210.1,485.4 1212.5,429.7 1215.0,415.6 1217.5,357.2 1220.0,412.6 1222.4,433.1 1224.9,405.9 1227.4,394.5 1229.9,429.1 1232.3,426.0 1234.8,459.3 1237.3,417.1 1239.8,434.7 1242.2,412.5 1244.7,415.9 1247.2,473.1 1249.7,430.5 1252.1,413.1 1254.6,451.9 1257.1,421.3 1259.6,409.2 1262.0,409.1 1264.5,350.4 1267.0,469.2 1269.5,429.2 1271.9,451.5 1274.4,406.4 1276.9,400.4 1279.4,449.9 1281.8,430.6 1284.3,488.5 1286.8,402.3 1289.2,364.3 1291.7,401.6 1294.2,346.1 1296.7,392.5 1299.1,339.7 1301.6,419.9 1304.1,404.2 1306.6,481.5 1309.0,410.1 1311.5,415.5 1314.0,353.8 1316.5,400.9 1318.9,419.8 1321.4,405.4 1323.9,403.0 1326.4,423.7 1328.8,424.5 1331.3,457.2 1333.8,366.9 1336.3,391.4 1338.7,388.6 1341.2,396.3 1343.7,425.0 1346.2,453.4 1348.6,404.7 1351.1,371.8 1353.6,399.4 1356.1,416.0 1358.5,395.7 1361.0,393.9 1363.5,374.9 1365.9,390.6 1368.4,390.5 1370.9,405.6 1373.4,385.5 1375.8,371.6 1378.3,383.2 1380.8,377.0 1383.3,387.0 1385.7,380.4 1388.2,380.0 1390.7,420.1 1393.2,461.9 1395.6,413.2 1398.1,384.0 1400.6,394.0 1403.1,425.7 1405.5,411.6 1408.0,411.7 1410.5,399.4 1413.0,391.8 1415.4,405.5 1417.9,405.1 1420.4,419.3 1422.9,397.0 1425.3,381.7 1427.8,395.7 1430.3,403.7 1432.8,379.8 1435.2,374.1 1437.7,338.1 1440.2,392.8 1442.7,426.6 1445.1,391.0 1447.6,372.0 1450.1,400.5 1452.5,414.5 1455.0,365.2 1457.5,367.0 1460.0,338.9 1462.4,322.1 1464.9,361.0 1467.4,376.8 1469.9,362.2 1472.3,358.8 1474.8,387.9 1477.3,382.1 1479.8,418.4 1482.2,348.0 1484.7,374.5 1487.2,346.6 1489.7,351.5 1492.1,391.9 1494.6,377.4 1497.1,421.4 1499.6,433.6 1502.0,360.1 1504.5,402.1 1507.0,384.3 1509.5,434.8 1511.9,446.7 1514.4,347.7 1516.9,389.7 1519.4,366.7 1521.8,404.8 1524.3,394.2 1526.8,476.3 1529.2,338.8 1531.7,387.5 1534.2,370.2 1536.7,411.1 1539.1,350.5 1541.6,400.9 1544.1,395.4 1546.6,452.5 1549.0,390.5 1551.5,365.2 1554.0,426.6 1556.5,319.8 1558.9,371.1 1561.4,362.0 1563.9,399.3 1566.4,384.3 1568.8,384.4 1571.3,400.3 1573.8,405.9 1576.3,345.0 1578.7,307.5 1581.2,350.4 1583.7,326.0 1586.2,387.4 1588.6,413.2 1591.1,370.3 1593.6,357.4 1596.1,398.3 1598.5,421.2 1601.0,361.6 1603.5,364.4 1606.0,307.4 1608.4,379.0 1610.9,334.5 1613.4,350.6 1615.8,299.5 1618.3,282.4 1620.8,378.3 1623.3,340.3 1625.7,356.1 1628.2,322.9 1630.7,359.1 1633.2,370.8 1635.6,307.4 1638.1,271.0 1640.6,330.2 1643.1,351.9 1645.5,302.4 1648.0,347.1 1650.5,365.9 1653.0,328.0 1655.4,316.0 1657.9,472.3 1660.4,361.6 1662.9,347.9 1665.3,262.4 1667.8,323.2 1670.3,341.4 1672.8,155.8 1675.2,304.3 1677.7,389.8 1680.2,267.9 1682.7,326.3 1685.1,343.7 1687.6,156.6 1690.1,332.0 1692.5,290.0 1695.0,280.7 1697.5,316.8 1700.0,298.0 1702.4,338.6 1704.9,260.4 1707.4,289.4 1709.9,287.8 1712.3,306.3 1714.8,285.0 1717.3,280.1 1719.8,237.9 1722.2,223.2 1724.7,325.4 1727.2,232.2 1729.7,179.8 1732.1,290.2 1734.6,252.2 1737.1,279.2 1739.6,264.1 1742.0,182.7 1744.5,260.9 1747.0,183.4 1749.5,240.3 1751.9,263.6 1754.4,217.7 1756.9,288.2 1759.4,339.3 1761.8,228.2 1764.3,378.8 1766.8,233.8 1769.3,278.4 1771.7,289.3 1774.2,155.9 1776.7,253.4 1779.1,291.8 1781.6,150.9 1784.1,300.0 1786.6,180.9 1789.0,288.5 1791.5,256.1 1794.0,309.1 1796.5,231.6 1798.9,208.4 1801.4,280.5 1803.9,303.3 1806.4,220.9 1808.8,191.5 1811.3,360.3 1813.8,139.9 1816.3,230.7 1818.7,209.1 1821.2,280.0 1823.7,215.5 1826.2,194.7 1828.6,262.4 1831.1,203.3 1833.6,187.8 1836.1,68.9 1838.5,352.3 1841.0,258.1 1843.5,273.2 1846.0,197.3 1848.4,307.6 1850.9,220.7 1853.4,262.6 1855.9,241.5 1858.3,283.0 1860.8,212.0 1863.3,283.5 1865.7,139.8 1868.2,277.2 1870.7,259.9 1873.2,330.4 1875.6,362.9 1878.1,237.6 1880.6,188.8 1883.1,341.0 1885.5,232.8 1888.0,198.1 1890.5,337.7 1893.0,167.6 1895.4,269.2 1897.9,232.2 1900.4,268.0 1902.9,230.4 1905.3,327.6 1907.8,226.0 1910.3,184.5 1912.8,236.6 1915.2,152.9 1917.7,406.3 1920.2,287.3 1922.7,343.0 1925.1,180.6 1927.6,106.0 1930.1,205.0 1932.6,127.2 1935.0,263.5 1937.5,205.7 1940.0,342.5 1942.4,125.0 1944.9,295.7 1947.4,215.9 1949.9,260.2 1952.3,190.8 1954.8,225.4 1957.3,149.5 1959.8,206.8 1962.2,128.0 1964.7,247.0 1967.2,223.3 1969.7,340.2 1972.1,161.9 1974.6,264.9 1977.1,214.3 1979.6,235.0 1982.0,188.9 1984.5,189.3 1987.0,304.6 1989.5,230.4 1991.9,207.6 1994.4,288.1 1996.9,198.1 1999.4,143.8 2001.8,247.8 2004.3,289.6 2006.8,227.3 2009.3,255.5 2011.7,228.5 2014.2,260.7 2016.7,158.2 2019.2,381.7 2021.6,263.9 2024.1,279.4 2026.6,187.2 2029.0,299.2 2031.5,271.1 2034.0,335.0 2036.5,213.1 2038.9,288.4 2041.4,309.2 2043.9,102.4 2046.4,212.6 2048.8,182.1 2051.3,272.3 2053.8,93.3 2056.3,223.1 2058.7,300.8 2061.2,348.9 2063.7,155.2 2066.2,301.7 2068.6,239.4 2071.1,257.2 2073.6,120.6 2076.1,227.6 2078.5,280.6 2081.0,251.2 2083.5,308.6 2086.0,355.8 2088.4,231.8 2090.9,338.1 2093.4,250.4 2095.9,214.2 2098.3,280.8 2100.8,302.0 2103.3,241.6 2105.7,263.1 2108.2,188.1 2110.7,332.8 2113.2,284.6 2115.6,275.8 2118.1,284.9" stroke="#edb120"/>
<polyline points="210.5,272.4 212.9,305.6 215.4,323.3 217.9,247.1 220.4,279.4 222.8,278.0 225.3,301.0 227.8,272.1 230.3,315.6 232.7,358.1 235.2,312.2 237.7,327.8 240.2,242.9 242.6,284.9 245.1,302.8 247.6,270.3 250.1,303.7 252.5,291.7 255.0,315.7 257.5,332.2 260.0,321.8 262.4,347.4 264.9,298.2 267.4,271.2 269.9,357.2 272.3,336.8 274.8,369.3 277.3,375.1 279.8,319.8 282.2,294.4 284.7,390.8 287.2,340.6 289.7,319.4 292.1,348.3 294.6,308.5 297.1,284.0 299.5,367.9 302.0,332.4 304.5,343.8 307.0,276.2 309.4,302.2 311.9,309.0 314.4,284.7 316.9,270.3 319.3,294.7 321.8,306.3 324.3,333.9 326.8,392.6 329.2,319.4 331.7,369.7 334.2,337.0 336.7,322.1 339.1,354.6 341.6,302.7 344.1,256.9 346.6,350.1 349.0,400.6 351.5,328.7 354.0,288.1 356.5,345.4 358.9,368.8 361.4,345.4 363.9,362.4 366.4,335.0 368.8,332.2 371.3,390.5 373.8,428.8 376.2,345.6 378.7,303.3 381.2,435.1 383.7,352.7 386.1,315.8 388.6,388.5 391.1,322.8 393.6,286.3 396.0,440.4 398.5,373.7 401.0,385.9 403.5,333.8 405.9,316.7 408.4,360.3 410.9,377.8 413.4,303.3 415.8,350.4 418.3,369.7 420.8,304.5 423.3,256.9 425.7,379.6 428.2,344.5 430.7,336.3 433.2,381.3 435.6,330.0 438.1,302.4 440.6,411.9 443.1,331.2 445.5,279.2 448.0,371.9 450.5,418.1 453.0,354.5 455.4,327.4 457.9,395.6 460.4,369.9 462.8,365.8 465.3,428.8 467.8,378.3 470.3,398.8 472.7,403.8 475.2,360.6 477.7,336.3 480.2,382.2 482.6,339.6 485.1,297.6 487.6,519.0 490.1,413.1 492.5,364.0 495.0,442.7 497.5,525.3 500.0,287.2 502.4,372.0 504.9,409.2 507.4,382.9 509.9,380.1 512.3,441.3 514.8,402.9 517.3,414.9 519.8,395.6 522.2,339.0 524.7,395.6 527.2,363.1 529.7,356.0 532.1,493.1 534.6,369.6 537.1,302.4 539.5,362.7 542.0,334.6 544.5,399.2 547.0,418.8 549.4,362.3 551.9,397.2 554.4,329.6 556.9,477.9 559.3,334.7 561.8,242.2 564.3,371.9 566.8,347.4 569.2,456.5 571.7,487.8 574.2,419.7 576.7,403.3 579.1,455.0 581.6,468.1 584.1,370.3 586.6,442.7 589.0,412.2 591.5,491.3 594.0,382.4 596.5,336.3 598.9,404.1 601.4,353.5 603.9,459.0 606.4,446.9 608.8,563.8 611.3,466.3 613.8,499.4 616.3,414.2 618.7,617.4 621.2,471.5 623.7,493.6 626.1,361.2 628.6,453.5 631.1,413.5 633.6,490.6 636.0,392.2 638.5,520.7 641.0,585.3 643.5,410.6 645.9,563.8 648.4,444.3 650.9,462.6 653.4,347.2 655.8,407.9 658.3,350.4 660.8,479.9 663.3,362.1 665.7,305.3 668.2,521.0 670.7,451.6 673.2,448.1 675.6,520.1 678.1,393.4 680.6,324.4 683.1,589.7 685.5,461.4 688.0,496.4 690.5,389.2 693.0,417.5 695.4,327.2 697.9,413.8 700.4,442.4 702.9,408.1 705.3,407.9 707.8,474.6 710.3,421.2 712.7,447.5 715.2,376.2 717.7,412.7 720.2,344.0 722.6,423.0 725.1,404.6 727.6,471.0 730.1,435.4 732.5,432.1 735.0,447.8 737.5,446.0 740.0,320.1 742.4,402.1 744.9,384.6 747.4,458.5 749.9,358.8 752.3,391.8 754.8,321.3 757.3,541.5 759.8,449.9 762.2,430.3 764.7,479.6 767.2,500.4 769.7,293.3 772.1,371.6 774.6,307.0 777.1,385.1 779.6,334.4 782.0,476.3 784.5,382.0 787.0,352.9 789.4,394.4 791.9,355.3 794.4,440.6 796.9,369.6 799.3,394.2 801.8,297.2 804.3,469.3 806.8,576.3 809.2,361.2 811.7,423.5 814.2,381.2 816.7,598.7 819.1,471.1 821.6,421.3 824.1,456.3 826.6,429.7 829.0,473.4 831.5,474.6 834.0,396.2 836.5,347.2 838.9,432.2 841.4,399.0 843.9,527.8 846.4,583.5 848.8,406.2 851.3,473.2 853.8,437.9 856.3,483.5 858.7,434.7 861.2,475.4 863.7,456.6 866.2,504.9 868.6,435.6 871.1,462.3 873.6,366.3 876.0,326.7 878.5,567.4 881.0,462.9 883.5,514.1 885.9,390.8 888.4,362.4 890.9,527.8 893.4,603.1 895.8,511.4 898.3,566.6 900.8,475.7 903.3,521.3 905.7,451.7 908.2,567.4 910.7,460.5 913.2,416.0 915.6,512.0 918.1,399.0 920.6,437.5 923.1,374.9 925.5,366.5 928.0,445.8 930.5,429.4 933.0,573.7 935.4,476.5 937.9,437.4 940.4,426.8 942.9,335.1 945.3,389.0 947.8,347.2 950.3,442.4 952.7,393.8 955.2,412.1 957.7,363.3 960.2,438.8 962.6,396.7 965.1,421.9 967.6,376.2 970.1,417.4 972.5,381.9 975.0,397.2 977.5,433.0 980.0,390.1 982.4,479.3 984.9,517.4 987.4,458.8 989.9,506.7 992.3,445.9 994.8,461.8 997.3,387.4 999.8,435.2 1002.2,382.1 1004.7,529.9 1007.2,453.9 1009.7,472.8 1012.1,406.7 1014.6,429.5 1017.1,354.4 1019.6,404.2 1022.0,349.4 1024.5,536.2 1027.0,452.9 1029.5,465.9 1031.9,427.9 1034.4,408.3 1036.9,485.3 1039.3,426.6 1041.8,418.1 1044.3,373.6 1046.8,374.0 1049.2,314.2 1051.7,411.9 1054.2,300.8 1056.7,380.6 1059.1,385.3 1061.6,456.3 1064.1,505.8 1066.6,390.1 1069.0,400.1 1071.5,356.2 1074.0,437.8 1076.5,408.2 1078.9,439.9 1081.4,409.2 1083.9,430.6 1086.4,465.6 1088.8,409.5 1091.3,388.3 1093.8,415.4 1096.3,399.0 1098.7,421.5 1101.2,412.5 1103.7,445.1 1106.2,350.4 1108.6,439.6 1111.1,398.2 1113.6,398.2 1116.0,364.2 1118.5,391.3 1121.0,383.7 1123.5,382.9 1125.9,400.3 1128.4,390.1 1130.9,407.8 1133.4,416.3 1135.8,404.0 1138.3,431.5 1140.8,359.4 1143.3,436.9 1145.7,397.5 1148.2,388.3 1150.7,443.3 1153.2,391.8 1155.6,369.6 1158.1,444.2 1160.6,385.9 1163.1,363.3 1165.5,380.8 1168.0,326.1 1170.5,303.1 1173.0,480.8 1175.4,426.5 1177.9,429.4 1180.4,404.7 1182.9,406.2 1185.3,404.9 1187.8,389.2 1190.3,400.3 1192.8,329.0 1195.2,388.8 1197.7,413.7 1200.2,356.8 1202.6,336.5 1205.1,387.1 1207.6,381.7 1210.1,430.6 1212.5,374.9 1215.0,360.7 1217.5,302.2 1220.0,357.6 1222.4,377.9 1224.9,350.7 1227.4,339.2 1229.9,373.8 1232.3,370.6 1234.8,403.8 1237.3,361.5 1239.8,379.1 1242.2,356.8 1244.7,360.1 1247.2,417.2 1249.7,374.6 1252.1,357.1 1254.6,395.8 1257.1,365.1 1259.6,352.9 1262.0,352.8 1264.5,294.0 1267.0,412.8 1269.5,372.6 1271.9,394.9 1274.4,349.7 1276.9,343.7 1279.4,393.0 1281.8,373.7 1284.3,431.5 1286.8,345.2 1289.2,307.1 1291.7,344.3 1294.2,288.7 1296.7,334.9 1299.1,282.1 1301.6,362.1 1304.1,346.4 1306.6,423.5 1309.0,352.3 1311.5,357.9 1314.0,296.3 1316.5,343.7 1318.9,362.8 1321.4,348.5 1323.9,346.3 1326.4,367.2 1328.8,368.3 1331.3,401.2 1333.8,311.0 1336.3,335.7 1338.7,333.1 1341.2,341.0 1343.7,369.9 1346.2,398.5 1348.6,350.0 1351.1,317.2 1353.6,345.0 1356.1,361.9 1358.5,341.8 1361.0,340.1 1363.5,321.3 1365.9,337.3 1368.4,337.6 1370.9,352.9 1373.4,333.1 1375.8,319.6 1378.3,331.5 1380.8,325.5 1383.3,335.8 1385.7,329.5 1388.2,329.4 1390.7,369.8 1393.2,411.9 1395.6,363.1 1398.1,333.8 1400.6,343.7 1403.1,375.3 1405.5,361.0 1408.0,361.1 1410.5,348.7 1413.0,341.0 1415.4,354.5 1417.9,354.0 1420.4,368.1 1422.9,345.7 1425.3,330.3 1427.8,344.1 1430.3,352.1 1432.8,328.1 1435.2,322.2 1437.7,286.2 1440.2,340.7 1442.7,374.4 1445.1,338.7 1447.6,319.6 1450.1,348.0 1452.5,361.9 1455.0,312.4 1457.5,314.1 1460.0,286.0 1462.4,269.0 1464.9,307.8 1467.4,323.5 1469.9,308.8 1472.3,305.3 1474.8,334.3 1477.3,328.3 1479.8,364.6 1482.2,294.0 1484.7,320.4 1487.2,292.4 1489.7,297.2 1492.1,337.4 1494.6,322.9 1497.1,366.8 1499.6,378.8 1502.0,305.3 1504.5,347.1 1507.0,329.2 1509.5,379.6 1511.9,391.3 1514.4,292.2 1516.9,334.1 1519.4,311.0 1521.8,349.0 1524.3,338.3 1526.8,420.3 1529.2,282.9 1531.7,331.7 1534.2,314.6 1536.7,355.6 1539.1,295.1 1541.6,345.7 1544.1,340.3 1546.6,397.6 1549.0,336.2 1551.5,311.5 1554.0,373.5 1556.5,267.2 1558.9,319.1 1561.4,310.6 1563.9,348.5 1566.4,334.0 1568.8,334.7 1571.3,351.2 1573.8,357.4 1576.3,297.1 1578.7,260.1 1581.2,303.5 1583.7,279.7 1586.2,341.8 1588.6,368.1 1591.1,325.3 1593.6,312.4 1596.1,353.3 1598.5,376.2 1601.0,316.6 1603.5,319.4 1606.0,262.4 1608.4,334.2 1610.9,291.0 1613.4,308.3 1615.8,258.4 1618.3,242.6 1620.8,339.6 1623.3,302.3 1625.7,318.9 1628.2,286.5 1630.7,323.5 1633.2,336.0 1635.6,273.4 1638.1,237.8 1640.6,297.7 1643.1,319.9 1645.5,270.4 1648.0,315.1 1650.5,334.2 1653.0,297.8 1655.4,287.4 1657.9,445.3 1660.4,335.7 1662.9,323.0 1665.3,238.7 1667.8,300.7 1670.3,319.9 1672.8,135.4 1675.2,285.0 1677.7,371.7 1680.2,250.3 1682.7,309.2 1685.1,327.1 1687.6,140.4 1690.1,316.3 1692.5,274.7 1695.0,266.0 1697.5,302.5 1700.0,284.2 1702.4,325.3 1704.9,247.6 1707.4,277.1 1709.9,275.9 1712.3,294.9 1714.8,274.0 1717.3,269.6 1719.8,227.9 1722.2,213.7 1724.7,316.3 1727.2,223.0 1729.7,170.4 1732.1,280.6 1734.6,242.3 1737.1,269.2 1739.6,253.8 1742.0,172.2 1744.5,250.3 1747.0,172.9 1749.5,230.3 1751.9,253.8 1754.4,208.3 1756.9,279.2 1759.4,330.6 1761.8,219.9 1764.3,370.8 1766.8,226.2 1769.3,271.2 1771.7,282.4 1774.2,149.4 1776.7,247.2 1779.1,286.0 1781.6,145.4 1784.1,294.9 1786.6,176.2 1789.0,284.2 1791.5,252.2 1794.0,305.6 1796.5,228.4 1798.9,205.6 1801.4,278.0 1803.9,301.2 1806.4,219.1 1808.8,190.1 1811.3,359.2 1813.8,139.0 1816.3,230.0 1818.7,208.6 1821.2,279.7 1823.7,215.5 1826.2,194.9 1828.6,262.8 1831.1,203.8 1833.6,188.6 1836.1,69.9 1838.5,353.8 1841.0,260.1 1843.5,275.7 1846.0,200.3 1848.4,311.0 1850.9,224.4 1853.4,266.7 1855.9,245.9 1858.3,287.8 1860.8,217.2 1863.3,289.6 1865.7,146.7 1868.2,284.2 1870.7,266.9 1873.2,337.4 1875.6,369.9 1878.1,244.6 1880.6,195.8 1883.1,348.5 1885.5,240.8 1888.0,206.5 1890.5,346.7 1893.0,177.1 1895.4,278.8 1897.9,241.9 1900.4,277.9 1902.9,240.4 1905.3,337.8 1907.8,236.3 1910.3,194.9 1912.8,247.2 1915.2,163.7 1917.7,417.2 1920.2,298.3 1922.7,354.2 1925.1,192.0 1927.6,117.6 1930.1,216.3 1932.6,138.1 1935.0,274.1 1937.5,216.0 1940.0,352.4 1942.4,134.6 1944.9,305.1 1947.4,225.2 1949.9,269.3 1952.3,199.7 1954.8,234.2 1957.3,158.2 1959.8,215.3 1962.2,136.3 1964.7,255.2 1967.2,231.2 1969.7,347.9 1972.1,169.4 1974.6,272.1 1977.1,221.2 1979.6,241.5 1982.0,195.1 1984.5,195.3 1987.0,310.4 1989.5,236.0 1991.9,213.1 1994.4,293.5 1996.9,203.3 1999.4,148.8 2001.8,252.7 2004.3,294.4 2006.8,231.9 2009.3,260.0 2011.7,232.9 2014.2,264.9 2016.7,162.2 2019.2,385.4 2021.6,267.3 2024.1,282.4 2026.6,189.9 2029.0,301.5 2031.5,273.0 2034.0,336.3 2036.5,214.0 2038.9,289.1 2041.4,309.6 2043.9,102.4 2046.4,212.2 2048.8,181.3 2051.3,271.2 2053.8,91.7 2056.3,221.2 2058.7,298.5 2061.2,346.2 2063.7,152.4 2066.2,298.8 2068.6,236.5 2071.1,254.2 2073.6,117.6 2076.1,224.5 2078.5,277.4 2081.0,247.9 2083.5,305.3 2086.0,352.4 2088.4,228.3 2090.9,334.6 2093.4,246.8 2095.9,210.4 2098.3,276.9 2100.8,297.9 2103.3,237.4 2105.7,258.8 2108.2,183.7 2110.7,328.3 2113.2,280.3 2115.6,271.7 2118.1,281.0" stroke="#7e2f8e"/>
</g>
<g fill="none" stroke="#000" stroke-width="5.6" stroke-dasharray="26.6 15.26">
<path d="M514.5,768.5 V196 H723.5 V768.5 H514.5"/>
<path d="M863,738.5 V183 H1628.5 V738.5 H863"/>
</g>
<g font-family="'Liberation Serif', serif" font-size="43.8" fill="#262626" stroke="#262626" stroke-width="1.0">
<text transform="translate(208.6,1021.3) scale(1,1.105)" text-anchor="middle">0</text>
<text transform="translate(456.0,1021.3) scale(1,1.105)" text-anchor="middle">100</text>
<text transform="translate(703.5,1021.3) scale(1,1.105)" text-anchor="middle">200</text>
<text transform="translate(950.9,1021.3) scale(1,1.105)" text-anchor="middle">300</text>
<text transform="translate(1198.3,1021.3) scale(1,1.105)" text-anchor="middle">400</text>
<text transform="translate(1445.7,1021.3) scale(1,1.105)" text-anchor="middle">500</text>
<text transform="translate(1693.1,1021.3) scale(1,1.105)" text-anchor="middle">600</text>
<text transform="translate(1940.6,1021.3) scale(1,1.105)" text-anchor="middle">700</text>
<text transform="translate(2188.0,1021.3) scale(1,1.105)" text-anchor="middle">800</text>
<text transform="translate(190,102.5) scale(1,1.105)" text-anchor="end">0.05</text>
<text transform="translate(190,287.4) scale(1,1.105)" text-anchor="end">0</text>
<text transform="translate(190,472.3) scale(1,1.105)" text-anchor="end">-0.05</text>
<text transform="translate(190,657.2) scale(1,1.105)" text-anchor="end">-0.1</text>
<text transform="translate(190,842.1) scale(1,1.105)" text-anchor="end">-0.15</text>
</g>
<g font-family="'Liberation Sans', sans-serif" fill="#262626" font-size="48.5">
<text x="1196.4" y="1089.8" text-anchor="middle">samples</text>
<text transform="translate(72.3,505) rotate(-90)" text-anchor="middle">nT</text>
</g>
<g font-family="'Liberation Sans', sans-serif" font-size="39.2" fill="#000">
<path d="M1481,766 H1613" stroke="#0072bd" stroke-width="5.9" fill="none"/>
<text transform="translate(1623,775) scale(1.33,1)" font-family="'Liberation Serif', serif" font-style="italic" font-size="33.5" stroke="#000" stroke-width="0.3">σ</text>
<text x="1657" y="779.3">=</text>
<text x="1691" y="775">0.0107, B<tspan dy="17.5" dx="4" font-size="29">1</tspan></text>
<path d="M1481,827.5 H1613" stroke="#d95319" stroke-width="5.9" fill="none"/>
<text transform="translate(1623,842.5) scale(1.33,1)" font-family="'Liberation Serif', serif" font-style="italic" font-size="33.5" stroke="#000" stroke-width="0.3">σ</text>
<text x="1657" y="846.8">=</text>
<text x="1691" y="842.5">0.0104, Dou,Z. 2016</text>
<path d="M1481,881.5 H1613" stroke="#edb120" stroke-width="5.9" fill="none"/>
<text transform="translate(1623,897.4) scale(1.33,1)" font-family="'Liberation Serif', serif" font-style="italic" font-size="33.5" stroke="#000" stroke-width="0.3">σ</text>
<text x="1657" y="901.7">=</text>
<text x="1691" y="897.4">0.0060, Mu,Y. 2020-M</text>
<path d="M1481,936 H1613" stroke="#7e2f8e" stroke-width="5.9" fill="none"/>
<text transform="translate(1623,949.4) scale(1.33,1)" font-family="'Liberation Serif', serif" font-style="italic" font-size="33.5" stroke="#000" stroke-width="0.3">σ</text>
<text x="1657" y="953.7">=</text>
<text x="1691" y="949.4">0.0059, Proposed method</text>
</g>
</svg>
</body></html>
